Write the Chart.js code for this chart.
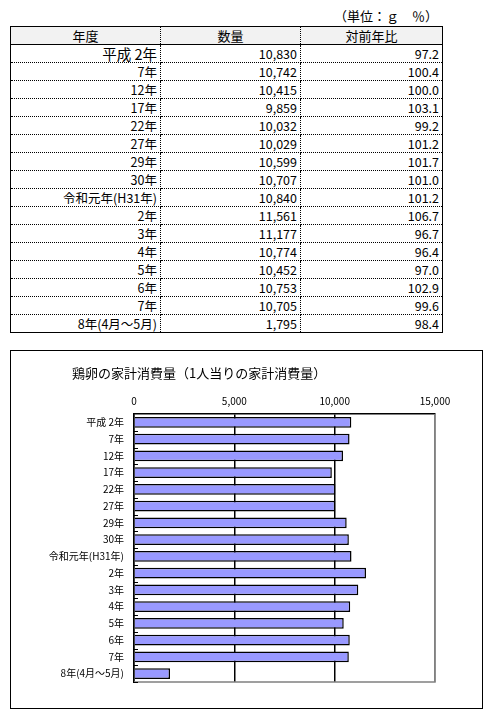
<!DOCTYPE html>
<html><head><meta charset="utf-8">
<script src="https://cdn.jsdelivr.net/npm/chart.js@4/dist/chart.umd.min.js"></script>
<style>
html,body{margin:0;padding:0;background:#fff;}
body{width:500px;height:720px;position:relative;font-family:"Noto Sans CJK JP","Noto Sans",sans-serif;color:#000;}
#unit{position:absolute;left:300px;width:138px;top:7px;text-align:right;font-size:13px;line-height:18px;}
#tbl{position:absolute;left:10px;top:26px;border-collapse:collapse;table-layout:fixed;width:432px;border:1px solid #000;}
#tbl td{border:1px dotted #000;height:17px;padding:0 3px 0 0;font-size:12.5px;line-height:16px;text-align:right;vertical-align:bottom;white-space:nowrap;overflow:hidden;}
#tbl tr.h td{background:#f2f2f2;text-align:center;border-bottom:1px solid #000;padding:0;font-size:13px;vertical-align:middle;}
#tbl tr.big td.c0{font-size:14.5px;}
#box{position:absolute;left:10px;top:350px;width:471px;height:357px;border:1px solid #000;}
#ttl{position:absolute;left:61px;top:14px;font-size:13px;line-height:16px;white-space:nowrap;}
#c{position:absolute;left:0;top:0;}
</style></head>
<body>
<div id="unit">（単位：ｇ　％）</div>
<table id="tbl"><colgroup><col style="width:150px"><col style="width:140px"><col style="width:142px"></colgroup><tbody id="tb"></tbody></table>
<div id="box"><canvas id="c" width="471" height="357"></canvas><div id="ttl">鶏卵の家計消費量（1人当りの家計消費量）</div></div>
<script>
const headers = ["年度", "数量", "対前年比"];
const unitLabel = "（単位：ｇ　％）";
const categories = ["平成 2年","7年","12年","17年","22年","27年","29年","30年","令和元年(H31年)","2年","3年","4年","5年","6年","7年","8年(4月～5月)"];
const quantities = [10830,10742,10415,9859,10032,10029,10599,10707,10840,11561,11177,10774,10452,10753,10705,1795];
const ratios = ["97.2","100.4","100.0","103.1","99.2","101.2","101.7","101.0","101.2","106.7","96.7","96.4","97.0","102.9","99.6","98.4"];
const xTicks = [0,5000,10000,15000];
const chartTitle = "鶏卵の家計消費量（1人当りの家計消費量）";

document.getElementById('unit').textContent = unitLabel;
document.getElementById('ttl').textContent = chartTitle;
const fmt = v => v.toLocaleString('en-US');
const tb = document.getElementById('tb');
let h = '<tr class="h">' + headers.map(t=>'<td>'+t+'</td>').join('') + '</tr>';
categories.forEach((c,i)=>{
  h += '<tr class="'+(i===0?'big':'')+'"><td class="c0">'+c+'</td><td>'+fmt(quantities[i])+'</td><td>'+ratios[i]+'</td></tr>';
});
tb.innerHTML = h;

const FONT = '"Noto Sans CJK JP","Noto Sans",sans-serif';
const framePlugin = {
  id:'frame',
  beforeDatasetsDraw(chart){
    const {ctx, chartArea:a} = chart;
    ctx.save();
    ctx.strokeStyle='#808080'; ctx.lineWidth=1.5;
    ctx.beginPath();
    ctx.moveTo(a.right, a.top); ctx.lineTo(a.right, a.bottom); ctx.lineTo(a.left, a.bottom);
    ctx.stroke();
    ctx.restore();
  },
  afterDatasetsDraw(chart){
    const {ctx} = chart; const y = chart.scales.y;
    const n = categories.length; const step = (y.bottom - y.top)/n;
    ctx.save(); ctx.strokeStyle='#000'; ctx.lineWidth=1;
    ctx.beginPath();
    for(let i=1;i<=n;i++){
      const yy = Math.round(y.top + i*step)+0.5;
      ctx.moveTo(y.right, yy); ctx.lineTo(y.right+4, yy);
    }
    ctx.stroke(); ctx.restore();
  }
};
new Chart(document.getElementById('c'), {
  type:'bar',
  data:{labels:categories, datasets:[{data:quantities, backgroundColor:'#9999FF', borderColor:'#000', borderWidth:1.5, barPercentage:0.63, categoryPercentage:1}]},
  options:{
    indexAxis:'y', responsive:false, animation:false,
    layout:{padding:{left:0,right:47,top:0,bottom:26}},
    plugins:{legend:{display:false}, tooltip:{enabled:false}, title:{display:false}},
    scales:{
      x:{type:'linear', position:'top', min:0, max:15000,
        afterBuildTicks(s){ s.ticks = xTicks.map(v=>({value:v})); },
        afterFit(s){ s.height = 63; },
        ticks:{color:'#000', font:{family:FONT, size:10}, padding:7, callback:v=>fmt(v), maxRotation:0},
        grid:{drawTicks:false, lineWidth:1.5, color:c=> (c.tick && c.tick.value===15000) ? '#808080' : '#000'},
        border:{display:true, color:'#000', width:1.5}
      },
      y:{type:'category',
        afterFit(s){ s.width = 123; },
        ticks:{color:'#000', font:{family:FONT, size:10}, padding:10, autoSkip:false},
        grid:{display:false, drawTicks:false},
        border:{display:true, color:'#000', width:1.5}
      }
    }
  },
  plugins:[framePlugin]
});
</script>
</body></html>
